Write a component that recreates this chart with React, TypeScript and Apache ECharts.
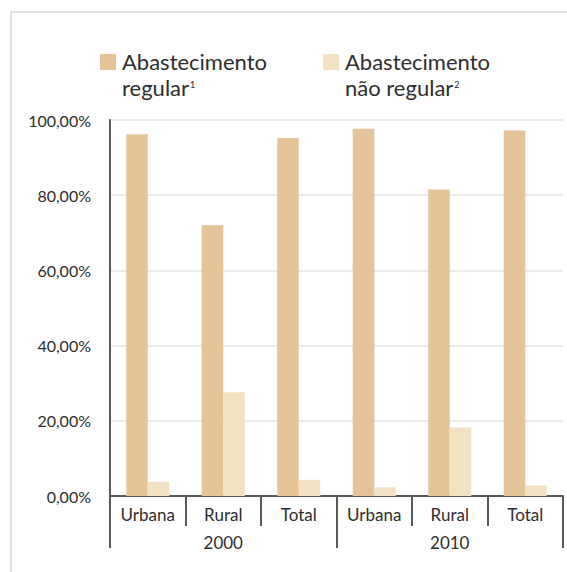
import React, { useEffect, useRef } from "react";
import * as echarts from "echarts";

const categories = ["Urbana", "Rural", "Total", "Urbana", "Rural", "Total"];
const years = ["2000", "2010"];
const seriesNames = ["Abastecimento regular", "Abastecimento não regular"];
const legendLines = [
  ["Abastecimento", "regular", "1"],
  ["Abastecimento", "não regular", "2"],
];
const regular = [96.2, 72.0, 95.2, 97.7, 81.5, 97.2];
const naoRegular = [3.8, 27.6, 4.3, 2.3, 18.2, 2.8];

const FONT = "Lato";
const TEXT = "#2e2e2e";
const AXIS = "#595959";
const COLORS = ["#E5C499", "#F2E2C3"];

export default function App() {
  const ref = useRef<HTMLDivElement>(null);
  useEffect(() => {
    if (!ref.current) return;
    const chart = echarts.init(ref.current, null, { renderer: "svg" });
    const legendX = [100, 323];
    const legendGraphics: any[] = [];
    legendLines.forEach((l, i) => {
      legendGraphics.push({
        type: "rect",
        shape: { x: legendX[i], y: 54, width: 16, height: 16 },
        style: { fill: COLORS[i] },
      });
      legendGraphics.push({
        type: "text",
        x: legendX[i] + 22,
        y: 48.5,
        style: {
          text: l[0] + "\n" + l[1] + "{sup|" + l[2] + "}",
          fontFamily: FONT,
          fontSize: 22,
          lineHeight: 26,
          fill: TEXT,
          verticalAlign: "top",
          rich: {
            sup: {
              fontFamily: FONT,
              fontSize: 9,
              lineHeight: 16,
              verticalAlign: "top",
              fill: TEXT,
              padding: [5, 0, 0, 1],
            },
          },
        },
      });
    });
    chart.setOption({
      animation: false,
      textStyle: { fontFamily: FONT },
      graphic: [
        {
          type: "rect",
          shape: { x: 11, y: 12, width: 2000, height: 2000 },
          style: { fill: "none", stroke: "#d9d9d9", lineWidth: 1.5 },
          z: -1,
        },
        ...legendGraphics,
      ],
      grid: { left: 110, right: 4, top: 120, bottom: 76 },
      xAxis: [
        {
          type: "category",
          data: categories,
          axisLine: { show: true, lineStyle: { color: AXIS, width: 2 } },
          axisTick: { show: true, interval: 0, length: 30, lineStyle: { color: AXIS, width: 2 } },
          axisLabel: { interval: 0, margin: 10, fontSize: 17, color: TEXT, fontFamily: FONT },
        },
        {
          type: "category",
          data: years,
          position: "bottom",
          axisLine: { show: false },
          axisTick: { show: true, interval: 0, length: 52, lineStyle: { color: AXIS, width: 2 } },
          axisLabel: { interval: 0, margin: 38, fontSize: 17, color: TEXT, fontFamily: FONT },
        },
      ],
      yAxis: {
        type: "value",
        min: 0,
        max: 100,
        interval: 20,
        axisLine: { show: true, lineStyle: { color: AXIS, width: 2 } },
        axisTick: { show: false },
        splitLine: { lineStyle: { color: "#e6e6e6", width: 1.5 } },
        axisLabel: {
          margin: 19,
          fontSize: 16,
          color: TEXT,
          fontFamily: FONT,
          formatter: (v: number) => v.toFixed(2).replace(".", ",") + "%",
        },
      },
      series: [
        {
          name: seriesNames[0],
          type: "bar",
          xAxisIndex: 0,
          data: regular,
          barGap: "0%",
          barCategoryGap: "43%",
          itemStyle: { color: COLORS[0] },
        },
        {
          name: seriesNames[1],
          type: "bar",
          xAxisIndex: 0,
          data: naoRegular,
          barGap: "0%",
          barCategoryGap: "43%",
          itemStyle: { color: COLORS[1] },
        },
      ],
    });
    return () => chart.dispose();
  }, []);
  return (
    <div
      ref={ref}
      style={{ position: "fixed", left: 0, top: 0, width: 567, height: 572, background: "#fff" }}
    />
  );
}
